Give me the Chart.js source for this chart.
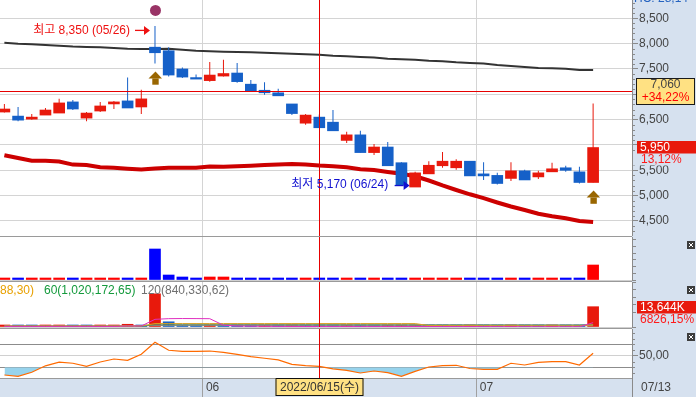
<!DOCTYPE html>
<html>
<head>
<meta charset="utf-8">
<title>일봉 차트</title>
<script src="https://cdn.jsdelivr.net/npm/chart.js@4.4.1/dist/chart.umd.min.js"></script>
<style>
  html, body { margin: 0; padding: 0; background: #fff; overflow: hidden; }
  #board { position: relative; width: 696px; height: 397px; }
  #board canvas { position: absolute; left: 0; }
</style>
</head>
<body>
<div id="board">
  <canvas id="priceChart" width="696" height="236" style="top:0"></canvas>
  <canvas id="amountChart" width="696" height="45" style="top:236px"></canvas>
  <canvas id="volumeChart" width="696" height="47" style="top:281px"></canvas>
  <canvas id="rsiChart" width="696" height="69" style="top:328px"></canvas>
</div>
<script>
// ---- data ----
const year = '2022';
const dates = ['05/11','05/12','05/13','05/16','05/17','05/18','05/19','05/20','05/23','05/24','05/25','05/26','05/27','05/30','05/31',
  '06/02','06/03','06/07','06/08','06/09','06/10','06/13','06/14','06/15','06/16','06/17','06/20','06/21','06/22','06/23','06/24','06/27','06/28','06/29','06/30',
  '07/01','07/04','07/05','07/06','07/07','07/08','07/11','07/12','07/13'];

const openP  = [6650, 6570, 6510, 6590, 6630, 6850, 6530, 6670, 6810, 6870, 6750, 7930, 7860, 7500, 7330, 7270, 7360, 7420, 7200, 7080, 7030,
  6810, 6430, 6550, 6450, 6090, 6200, 5850, 5960, 5650, 5170, 5430, 5590, 5550, 5680, 5430, 5400, 5340, 5490, 5370, 5470, 5550, 5470, 5260];
const closeP = [6710, 6490, 6550, 6690, 6830, 6710, 6630, 6770, 6850, 6730, 6910, 7820, 7380, 7340, 7300, 7380, 7410, 7250, 7070, 7030, 6970,
  6620, 6590, 6340, 6280, 6200, 5850, 5960, 5590, 5210, 5450, 5600, 5680, 5680, 5390, 5390, 5240, 5490, 5310, 5450, 5530, 5500, 5260, 5950];
const highP  = [6810, 6750, 6610, 6730, 6910, 6890, 6650, 6850, 6870, 7330, 7090, 8350, 7930, 7530, 7390, 7640, 7680, 7620, 7280, 7240, 7110,
  6810, 6610, 6600, 6690, 6260, 6280, 6020, 6060, 5660, 5470, 5680, 5860, 5720, 5680, 5660, 5450, 5660, 5510, 5490, 5650, 5590, 5570, 6820];
const lowP   = [6640, 6470, 6500, 6590, 6630, 6690, 6470, 6650, 6710, 6730, 6610, 7610, 7350, 7320, 7300, 7250, 7350, 7230, 7070, 6990, 6970,
  6590, 6400, 6340, 6280, 6040, 5850, 5800, 5590, 5200, 5170, 5430, 5550, 5510, 5390, 5310, 5220, 5290, 5310, 5330, 5470, 5470, 5240, 5260];

const maLong = [8015, 7997, 7987, 7973, 7959, 7942, 7934, 7928, 7914, 7900, 7896, 7894, 7900, 7880, 7861, 7849, 7841, 7835, 7829, 7821, 7811,
  7801, 7792, 7782, 7762, 7750, 7736, 7724, 7703, 7693, 7683, 7663, 7653, 7632, 7620, 7610, 7578, 7559, 7539, 7519, 7513, 7505, 7480, 7480];
const maMid  = [5799, 5743, 5690, 5690, 5672, 5613, 5605, 5560, 5552, 5532, 5514, 5536, 5552, 5552, 5552, 5574, 5572, 5580, 5591, 5605, 5615,
  5625, 5613, 5593, 5579, 5560, 5520, 5506, 5467, 5431, 5382, 5299, 5201, 5112, 5027, 4950, 4865, 4786, 4717, 4644, 4593, 4553, 4500, 4480];

// trading value (백만원) and volume (천주)
const tradeAmt = [2900, 2600, 2000, 2500, 3700, 2900, 2100, 2700, 3200, 10400, 10400, 160800, 25900, 15600, 10400, 15600, 15600, 10400, 2500, 2100,
  1900, 2400, 2000, 1700, 1500, 2000, 1700, 1500, 1700, 2000, 2200, 1700, 1450, 1300, 1650, 1150, 1000, 1250, 1050, 1000, 1250, 1100, 1040, 77800];
const volume = [520, 410, 300, 380, 560, 430, 310, 390, 470, 1830, 640, 22300, 3500, 900, 520, 610, 550, 480, 350, 400,
  280, 360, 310, 260, 240, 330, 290, 260, 310, 380, 420, 310, 260, 230, 300, 210, 190, 240, 200, 180, 230, 200, 197, 13644];
const volMa5 = [420, 400, 380, 390, 410, 420, 400, 380, 380, 680, 670, 5150, 5600, 5700, 5650, 5590, 1200, 620, 540, 460,
  380, 340, 330, 300, 290, 300, 290, 290, 300, 310, 330, 330, 330, 310, 300, 290, 260, 230, 220, 210, 210, 210, 205, 2890];
const volMa20 = [660, 660, 650, 650, 650, 660, 650, 650, 650, 700, 700, 2300, 2300, 2300, 2300, 2300, 2300, 2300, 2300, 2300,
  2300, 2300, 2300, 2300, 2300, 2300, 2300, 2300, 2300, 2300, 2300, 960, 920, 880, 860, 840, 830, 820, 800, 790, 780, 760, 750, 1420];
const volMa60 = [560, 560, 560, 560, 560, 560, 560, 560, 570, 590, 600, 1500, 1520, 1530, 1530, 1540, 1540, 1540, 1540, 1540,
  1540, 1540, 1540, 1530, 1530, 1520, 1520, 1510, 1510, 1500, 1500, 1490, 1480, 1470, 1460, 1450, 1440, 1430, 1420, 1410, 1400, 1400, 1390, 1620];
const volMa120 = [780, 780, 775, 775, 770, 770, 770, 765, 765, 775, 775, 960, 965, 965, 965, 960, 960, 960, 955, 955,
  950, 950, 945, 945, 940, 940, 935, 930, 930, 925, 920, 915, 910, 905, 900, 895, 890, 885, 880, 875, 870, 865, 860, 840];
const volLegend = [['20(1,133,688,30)', '#e8a000'], ['60(1,020,172,65)', '#149a3c'], ['120(840,330,62)', '#707070']];
const lastVolLabel = '13,644K';
const lastVolChange = '6826,15%';

const rsi = [16.6, 14.3, 21.3, 32.6, 39.0, 37.0, 31.7, 39.2, 44.4, 42.2, 52.6, 73.5, 59.6, 57.8, 57.8, 58.3, 56.1, 52.6, 48.6, 45.7,
  43.0, 35.2, 33.0, 31.7, 27.4, 24.8, 20.1, 23.6, 20.8, 14.3, 23.0, 30.5, 33.0, 33.5, 27.9, 26.5, 26.5, 37.0, 34.0, 38.7, 39.9, 39.9, 34.0, 54.3];
const rsiLevels = [30, 50, 70];

const priceTicks = [4500, 5000, 5500, 6000, 6500, 7000, 7500, 8000, 8500];
const cursorIndex = 23;      // 06/15
const cursorPrice = 7060;
const signalIdx = [11, 43];
const topNote = 'HC: 28,14';

// ---- look ----
const RED = '#e8190c', BLUE = '#1560c8', CROSS = '#e60000', SIDE_BG = '#d6e1ef', SEP = '#9a9a9a';
const FAMILY = "'Liberation Sans', 'Noto Sans CJK KR', sans-serif";
const FONT = '12px ' + FAMILY;
const font12 = { family: FAMILY, size: 12 };
const AXIS_W = 64;
const X_MIN = -0.32, X_MAX = 45.84;

const idx = dates.map((d, i) => i);
const monthEdges = [];
dates.forEach((d, i) => { if (i > 0 && d.slice(0, 2) !== dates[i - 1].slice(0, 2)) monthEdges.push(i - 0.5); });
const priceMinor = [];
for (let v = 4300; v <= 8800; v += 100) priceMinor.push(v);
const rsiMinor = [20, 30, 40, 50, 60, 70, 80, 90];

const fmt = v => v.toLocaleString('en-US');
const candleUp = idx.map(i => closeP[i] >= openP[i]);
const pts = (arr) => idx.map(i => ({ x: i, y: arr[i] }));

function hline(ctx, x1, x2, y, color) {
  ctx.strokeStyle = color; ctx.lineWidth = 1;
  ctx.beginPath(); ctx.moveTo(x1, y); ctx.lineTo(x2, y); ctx.stroke();
}
function vline(ctx, x, y1, y2, color) {
  ctx.strokeStyle = color; ctx.lineWidth = 1;
  ctx.beginPath(); ctx.moveTo(x, y1); ctx.lineTo(x, y2); ctx.stroke();
}
function text(ctx, str, x, y, color, align) {
  ctx.font = FONT; ctx.fillStyle = color; ctx.textAlign = align || 'left'; ctx.textBaseline = 'middle';
  ctx.fillText(str, x, y);
}
function pointer(ctx, tip, y, color) {
  ctx.strokeStyle = color; ctx.lineWidth = 1.3;
  ctx.beginPath(); ctx.moveTo(tip - 15, y); ctx.lineTo(tip - 6, y); ctx.stroke();
  ctx.fillStyle = color;
  ctx.beginPath(); ctx.moveTo(tip - 6, y - 4.5); ctx.lineTo(tip, y); ctx.lineTo(tip - 6, y + 4.5); ctx.closePath(); ctx.fill();
}
function upArrow(ctx, cx, top) {
  ctx.fillStyle = '#996600';
  ctx.beginPath(); ctx.moveTo(cx - 6.5, top + 7); ctx.lineTo(cx + 0.5, top); ctx.lineTo(cx + 7, top + 7); ctx.closePath(); ctx.fill();
  ctx.fillRect(cx - 2.7, top + 7, 6.4, 6.3);
}
function closeIcon(ctx, x, y) {
  ctx.fillStyle = '#3d3d3d'; ctx.fillRect(x, y, 8, 8);
  ctx.strokeStyle = '#fff'; ctx.lineWidth = 1;
  ctx.beginPath(); ctx.moveTo(x + 2, y + 2); ctx.lineTo(x + 6, y + 6); ctx.moveTo(x + 6, y + 2); ctx.lineTo(x + 2, y + 6); ctx.stroke();
}
function minorTicks(ctx, scale, a, values) {
  values.forEach(v => {
    const y = Math.round(scale.getPixelForValue(v)) + 0.5;
    hline(ctx, a.right, a.right + 3, y, '#8a8a8a');
  });
}
function crossX(chart) {
  const { ctx, chartArea: a, scales: { x } } = chart;
  vline(ctx, Math.round(x.getPixelForValue(cursorIndex)) + 0.5, a.top, a.bottom, CROSS);
}

function panelBase(strip) {
  return {
    id: 'panelBase',
    beforeDraw(chart) {
      const { ctx, chartArea: a, width, height } = chart;
      ctx.save();
      ctx.fillStyle = '#fff'; ctx.fillRect(0, 0, width, height);
      ctx.fillStyle = SIDE_BG; ctx.fillRect(a.right, 0, width - a.right, height);
      if (strip) ctx.fillRect(0, a.bottom, width, height - a.bottom);
      ctx.restore();
    }
  };
}

function xAxis(labels, borderColor) {
  return {
    type: 'linear', min: X_MIN, max: X_MAX, offset: false,
    afterBuildTicks: s => { s.ticks = monthEdges.map(v => ({ value: v })); },
    ticks: labels
      ? { display: true, autoSkip: false, maxRotation: 0, minRotation: 0, align: 'start', labelOffset: 3, padding: -17,
          color: '#444', font: font12, callback: v => dates[Math.ceil(v)].slice(0, 2) }
      : { display: false },
    grid: { color: '#d4d4d4', offset: false, drawTicks: !!labels, tickLength: 19, tickColor: '#a0a0a0' },
    border: { display: !!borderColor, color: borderColor || '#000' },
    afterFit: s => { s.height = labels ? 19 : 0; s.paddingLeft = 0; s.paddingRight = 0; }
  };
}
function yAxis(cfg) {
  return Object.assign({
    position: 'right',
    border: { display: true, color: '#8a8a8a' },
    afterFit: s => { s.width = AXIS_W; s.paddingTop = 0; s.paddingBottom = 0; }
  }, cfg);
}
function baseOptions(pad, xCfg, yCfg) {
  return {
    responsive: false, animation: false, events: [],
    layout: { padding: { top: pad[0], bottom: pad[1], left: 0, right: 0 } },
    plugins: { legend: { display: false }, tooltip: { enabled: false } },
    scales: { x: xCfg, y: yCfg }
  };
}

// ---- price panel ----
const priceDecor = {
  id: 'priceDecor',
  afterDraw(chart) {
    const { ctx, chartArea: a, width, scales: { x, y } } = chart;
    ctx.save();
    minorTicks(ctx, y, a, priceMinor.filter(v => !priceTicks.includes(v)));

    const cx = Math.round(x.getPixelForValue(cursorIndex)) + 0.5;
    const cy = Math.round(y.getPixelForValue(cursorPrice)) + 0.5;
    hline(ctx, a.left, a.right, cy, CROSS);
    vline(ctx, cx, a.top, a.bottom, CROSS);

    const hi = Math.max(...highP), hiIdx = highP.indexOf(hi);
    const hx = x.getPixelForValue(hiIdx), hy = y.getPixelForValue(hi);
    ctx.fillStyle = '#993366';
    ctx.beginPath(); ctx.arc(hx + 0.5, hy - 15.5, 5.5, 0, Math.PI * 2); ctx.fill();
    pointer(ctx, hx - 5, hy + 4.5, '#ee1111');
    text(ctx, `최고 ${fmt(hi)} (${dates[hiIdx]})`, hx - 25, hy + 4.5, '#ee1111', 'right');

    const lo = Math.min(...lowP), loIdx = lowP.indexOf(lo);
    const lx = x.getPixelForValue(loIdx), ly = y.getPixelForValue(lo);
    pointer(ctx, lx - 5.5, ly - 1.5, '#1010d0');
    text(ctx, `최저 ${fmt(lo)} (${dates[loIdx]})`, lx - 27, ly - 2.5, '#1010d0', 'right');

    signalIdx.forEach(i => upArrow(ctx, x.getPixelForValue(i), y.getPixelForValue(lowP[i]) + 8));

    // side labels
    const prev = closeP[closeP.length - 2], last = closeP[closeP.length - 1];
    const pct = v => (v / prev * 100 - 100).toFixed(2).replace('.', ',') + '%';
    ctx.fillStyle = '#ffe183'; ctx.fillRect(636, cy - 13.5, 59, 27);
    ctx.strokeStyle = '#1a1a1a'; ctx.lineWidth = 1; ctx.strokeRect(636.5, cy - 13, 58, 26);
    text(ctx, fmt(cursorPrice), 665.5, cy - 6.5, '#444', 'center');
    text(ctx, '+' + pct(cursorPrice), 665.5, cy + 6.5, '#ff0000', 'center');

    const lyy = Math.round(y.getPixelForValue(last)) + 0.5;
    ctx.fillStyle = SIDE_BG; ctx.fillRect(a.right + 1, lyy + 5, width - a.right - 1, 12);
    ctx.fillRect(a.right + 7, lyy - 10, width - a.right - 7, 3);
    ctx.fillStyle = RED; ctx.fillRect(637, lyy - 7.5, width - 637, 12.5);
    text(ctx, fmt(last), 640, lyy - 1, '#ffffff');
    text(ctx, pct(last), 641, lyy + 11, '#ff1a1a');

    text(ctx, topNote, 634, -1, '#2563c0');
    ctx.restore();
  }
};

new Chart(document.getElementById('priceChart'), {
  type: 'bar',
  data: {
    datasets: [
      { type: 'bar', data: idx.map(i => ({ x: i, y: [openP[i], closeP[i]] })), backgroundColor: idx.map(i => candleUp[i] ? RED : BLUE),
        barThickness: 11, minBarLength: 1, grouped: false, order: 1 },
      { type: 'bar', data: idx.map(i => ({ x: i, y: [lowP[i], highP[i]] })), backgroundColor: idx.map(i => candleUp[i] ? RED : BLUE),
        barThickness: 1, inflateAmount: 0, grouped: false, order: 2 },
      { type: 'line', data: pts(maMid), borderColor: '#cc0000', borderWidth: 4, pointRadius: 0, tension: 0, order: 3 },
      { type: 'line', data: pts(maLong), borderColor: '#333333', borderWidth: 2, pointRadius: 0, tension: 0, order: 4 }
    ]
  },
  options: baseOptions([0, 0], xAxis(false), yAxis({
    min: 4204, max: 8861,
    afterBuildTicks: s => { s.ticks = priceMinor.map(v => ({ value: v })); },
    ticks: { autoSkip: false, padding: 1, color: '#444', font: font12, callback: v => priceTicks.includes(v) ? fmt(v) : '' },
    grid: {
      color: c => c.tick && priceTicks.includes(c.tick.value) ? '#d4d4d4' : 'rgba(0,0,0,0)',
      tickColor: c => c.tick && priceTicks.includes(c.tick.value) ? '#8a8a8a' : 'rgba(0,0,0,0)',
      tickLength: 6
    }
  })),
  plugins: [panelBase(false), priceDecor]
});

// ---- trading value panel ----
const amountTicks = [0, 35000, 70000, 105000, 140000, 175000, 210000];
new Chart(document.getElementById('amountChart'), {
  type: 'bar',
  data: {
    datasets: [{
      data: pts(tradeAmt), backgroundColor: idx.map(i => candleUp[i] ? '#ff0000' : '#0000ff'),
      barThickness: 11, minBarLength: 2, grouped: false
    }]
  },
  options: baseOptions([1, 1], xAxis(false, '#d0d0d0'), yAxis({
    min: 0, max: 223000,
    afterBuildTicks: s => { s.ticks = amountTicks.map(v => ({ value: v })); },
    ticks: { display: false },
    grid: { color: 'rgba(0,0,0,0)', tickColor: '#8a8a8a', tickLength: 4 }
  })),
  plugins: [panelBase(false), {
    id: 'amountDecor',
    afterDraw(chart) {
      const { ctx, chartArea: a } = chart;
      ctx.save();
      crossX(chart);
      hline(ctx, 0, a.right, 0.5, SEP);
      closeIcon(ctx, 687, 5);
      ctx.restore();
    }
  }]
});

// ---- volume panel ----
const volTicks = [0, 5000, 10000, 15000, 20000, 25000, 30000];
const volLine = (arr, color, order) => ({ type: 'line', data: pts(arr), borderColor: color, borderWidth: 1, pointRadius: 0, tension: 0, order });
new Chart(document.getElementById('volumeChart'), {
  type: 'bar',
  data: {
    datasets: [
      volLine(volMa5, '#e030c0', 1),
      { type: 'bar', data: pts(volume), backgroundColor: idx.map(i => i === 0 || volume[i] >= volume[i - 1] ? RED : BLUE),
        barThickness: 11, minBarLength: 2, grouped: false, order: 5 },
      volLine(volMa20, '#d8a020', 2),
      volLine(volMa60, '#5a8a62', 3),
      volLine(volMa120, '#8a8a8a', 4)
    ]
  },
  options: baseOptions([1, 1], xAxis(false, '#d0d0d0'), yAxis({
    min: 0, max: 30240,
    afterBuildTicks: s => { s.ticks = volTicks.map(v => ({ value: v })); },
    ticks: { display: false },
    grid: { color: 'rgba(0,0,0,0)', tickColor: '#8a8a8a', tickLength: 4 }
  })),
  plugins: [panelBase(false), {
    id: 'volumeDecor',
    afterDraw(chart) {
      const { ctx, chartArea: a, width, scales: { y } } = chart;
      ctx.save();
      crossX(chart);
      hline(ctx, 0, a.right, 0.5, SEP);
      text(ctx, volLegend[0][0], 34, 9.5, volLegend[0][1], 'right');
      text(ctx, volLegend[1][0], 44, 9.5, volLegend[1][1]);
      text(ctx, volLegend[2][0], 141, 9.5, volLegend[2][1]);
      const vy = Math.round(y.getPixelForValue(volume[volume.length - 1])) + 0.5;
      ctx.fillStyle = SIDE_BG; ctx.fillRect(a.right + 1, vy + 6, width - a.right - 1, 12);
      ctx.fillStyle = RED; ctx.fillRect(637, vy - 6.5, width - 637, 12.5);
      text(ctx, lastVolLabel, 640, vy, '#ffffff');
      text(ctx, lastVolChange, 640, vy + 12, '#ff1a1a');
      closeIcon(ctx, 687, 5);
      ctx.restore();
    }
  }]
});

// ---- oscillator panel ----
new Chart(document.getElementById('rsiChart'), {
  type: 'line',
  data: {
    datasets: [{
      data: pts(rsi), borderColor: '#ff6a00', borderWidth: 1.2, pointRadius: 0, tension: 0,
      fill: { target: { value: rsiLevels[0] }, above: 'rgba(0,0,0,0)', below: '#97d3ec' }
    }]
  },
  options: baseOptions([1, 0], xAxis(true, '#9a9a9a'), yAxis({
    min: 11.4, max: 96.6,
    afterBuildTicks: s => { s.ticks = rsiMinor.map(v => ({ value: v })); },
    ticks: { autoSkip: false, padding: 1, color: '#444', font: font12,
      callback: v => v === rsiLevels[1] ? v.toFixed(2).replace('.', ',') : '' },
    grid: {
      color: c => !c.tick ? 'rgba(0,0,0,0)' : c.tick.value === rsiLevels[1] ? '#d0d0d0'
        : rsiLevels.includes(c.tick.value) ? '#8c8c8c' : 'rgba(0,0,0,0)',
      tickColor: c => c.tick && c.tick.value === rsiLevels[1] ? '#8a8a8a' : 'rgba(0,0,0,0)',
      tickLength: 6
    }
  })),
  plugins: [panelBase(true), {
    id: 'rsiDecor',
    afterDraw(chart) {
      const { ctx, chartArea: a, height, scales: { x, y } } = chart;
      ctx.save();
      minorTicks(ctx, y, a, rsiMinor.filter(v => v !== rsiLevels[1]));
      crossX(chart);
      hline(ctx, 0, a.right, 0.5, SEP);
      vline(ctx, a.right + 0.5, a.bottom, height, '#8a8a8a');
      const cx = Math.round(x.getPixelForValue(cursorIndex)) + 0.5;
      ctx.fillStyle = '#ffe183'; ctx.fillRect(cx - 44, a.bottom, 88, 18);
      ctx.strokeStyle = '#111'; ctx.lineWidth = 1; ctx.strokeRect(cx - 43.5, a.bottom + 0.5, 87, 17);
      text(ctx, `${year}/${dates[cursorIndex]}(수)`, cx, a.bottom + 9.5, '#333', 'center');
      text(ctx, dates[dates.length - 1], a.right + 9, a.bottom + 9.5, '#444');
      closeIcon(ctx, 687, 5);
      ctx.restore();
    }
  }]
});
</script>
</body>
</html>
